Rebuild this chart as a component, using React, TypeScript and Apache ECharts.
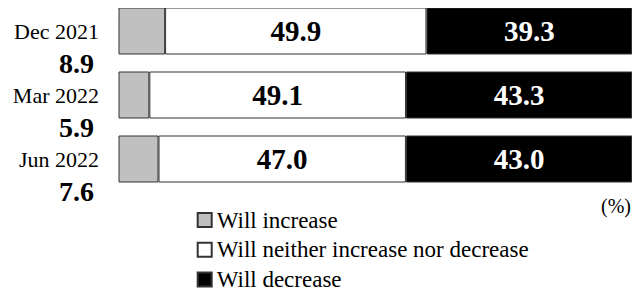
import React, { useEffect, useRef } from "react";
import * as echarts from "echarts";

const periods = ["Dec 2021", "Mar 2022", "Jun 2022"];
const increase = [8.9, 5.9, 7.6];
const neither = [49.9, 49.1, 47.0];
const decrease = [39.3, 43.3, 43.0];
const seriesNames = ["Will increase", "Will neither increase nor decrease", "Will decrease"];
const unitLabel = "(%)";

const FONT = '"Liberation Serif", "Times New Roman", serif';

export default function App() {
  const ref = useRef<HTMLDivElement>(null);
  useEffect(() => {
    if (!ref.current) return;
    const chart = echarts.init(ref.current, null, { renderer: "svg" });
    const totals = periods.map((_, i) => increase[i] + neither[i] + decrease[i]);
    const norm = (arr: number[]) => arr.map((v, i) => (v / totals[i]) * 100);
    const raws = [increase, neither, decrease];
    const colors = ["#c0c0c0", "#ffffff", "#000000"];
    const labelColors = ["#000000", "#000000", "#ffffff"];
    const series: any[] = raws.map((arr, s) => ({
      type: "bar",
      name: seriesNames[s],
      stack: "total",
      barWidth: 47,
      yAxisIndex: 0,
      data: norm(arr),
      itemStyle: { color: colors[s], borderColor: "#333333", borderWidth: 1 },
      label: {
        show: s > 0,
        position: "inside",
        color: labelColors[s],
        fontFamily: FONT,
        fontWeight: "bold",
        fontSize: 29,
        formatter: (p: any) => arr[p.dataIndex].toFixed(1),
      },
      emphasis: { disabled: true },
    }));
    const baseY = {
      type: "category",
      inverse: true,
      data: periods,
      position: "left",
      axisLine: { show: false },
      axisTick: { show: false },
      splitLine: { show: false },
    };
    chart.setOption({
      animation: false,
      grid: { left: 118.5, right: 7.7, top: -1, height: 192, outerBoundsMode: "none", containLabel: false },
      xAxis: { type: "value", min: 0, max: 100, show: false },
      yAxis: [
        {
          ...baseY,
          axisLabel: {
            interval: 0,
            hideOverlap: false,
            margin: 19.5,
            fontFamily: FONT,
            fontSize: 22,
            color: "#000",
          },
        },
        {
          ...baseY,
          axisLabel: {
            interval: 0,
            hideOverlap: false,
            margin: 24.5,
            formatter: (_: string, idx: number) => `{v|${increase[idx].toFixed(1)}}`,
            rich: {
              v: {
                fontFamily: FONT,
                fontSize: 28,
                fontWeight: "bold",
                color: "#000",
                lineHeight: 28,
                padding: [65, 0, 0, 0],
              },
            },
          },
        },
      ],
      legend: {
        orient: "vertical",
        left: 196.7,
        top: 208.5,
        padding: 0,
        height: 90,
        itemWidth: 14,
        itemHeight: 14,
        itemGap: 6.8,
        icon: "rect",
        selectedMode: false,
        textStyle: { fontFamily: FONT, fontSize: 23, color: "#000", lineHeight: 22.5 },
        data: seriesNames,
      },
      graphic: [
        {
          type: "text",
          right: 9,
          top: 196,
          style: { text: unitLabel, fontFamily: FONT, fontSize: 20, fill: "#000" },
        },
      ],
      series,
    });
    return () => chart.dispose();
  }, []);
  return <div ref={ref} style={{ width: 640, height: 296, margin: -8 }} />;
}
